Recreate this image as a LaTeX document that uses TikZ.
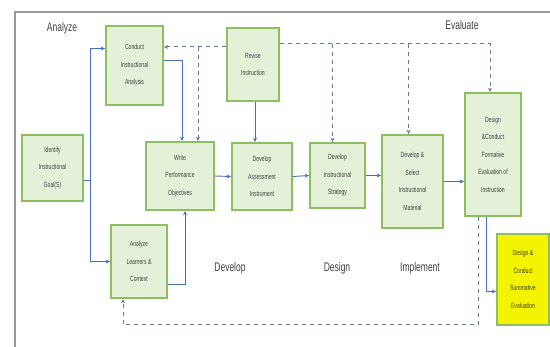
\documentclass[tikz,border=0pt]{standalone}
\usepackage{fontspec}
\setmainfont[FakeStretch=0.68]{Liberation Sans}
\usetikzlibrary{arrows.meta}
\definecolor{boxfill}{HTML}{E4F1D8}
\definecolor{boxline}{HTML}{8DBE60}
\definecolor{flow}{HTML}{4A6DC2}
\definecolor{fback}{HTML}{66789E}
\definecolor{sumfill}{HTML}{F4F400}
\begin{document}
\begin{tikzpicture}[x=1pt,y=-1pt,
    stage/.style={draw=boxline, line width=1.8pt, fill=boxfill, align=center,
      inner sep=1pt, text=black!75, font=\fontsize{7.5}{17.5}\selectfont},
    flowline/.style={draw=flow, line width=0.9pt, -{Stealth[length=4.5pt,width=4pt]}},
    loopline/.style={draw=fback, line width=1pt, dash pattern=on 4pt off 4pt,
      -{Stealth[length=4.5pt,width=4pt]}},
    phase/.style={text=black!75, font=\fontsize{12.5}{14}\selectfont}]
  \useasboundingbox (0,0) rectangle (550,347);
  \draw[gray!80, line width=1.3pt] (15,347) -- (15,12) -- (550,12);

  % Draw nodes
  \node[stage, minimum width=57pt, minimum height=79pt] (conduct) at (134.5,65.5) {Conduct\\Instructional\\Analysis};
  \node[stage, minimum width=52pt, minimum height=73pt] (revise) at (253,64.5) {Revise\\Instruction};
  \node[stage, minimum width=61pt, minimum height=66pt] (goal) at (52.5,168) {Identify\\Instructional\\Goal(S)};
  \node[stage, minimum width=68pt, minimum height=68pt] (objectives) at (180,176) {Write\\Performance\\Objectives};
  \node[stage, minimum width=60pt, minimum height=67pt] (assess) at (262,176.5) {Develop\\Assessment\\Instrument};
  \node[stage, minimum width=55pt, minimum height=65pt] (strategy) at (337.5,175.5) {Develop\\Instructional\\Strategy};
  \node[stage, minimum width=61pt, minimum height=93pt] (material) at (412.5,181.5) {Develop \&\\Select\\Instructional\\Material};
  \node[stage, minimum width=56pt, minimum height=123pt] (formative) at (493,154.5) {Design\\\&Conduct\\Formative\\Evaluation of\\Instruction};
  \node[stage, minimum width=56pt, minimum height=73pt] (learners) at (139,261.5) {Analyze\\Learners \&\\Context};
  \node[stage, fill=sumfill, text=black!70!olive, minimum width=52pt, minimum height=91pt] (summative) at (523,279.5) {Design \&\\Conduct\\Summative\\Evaluation};

  \node[phase] (analyze) at (62,28) {Analyze};
  \node[phase] (evaluate) at (462,25) {Evaluate};
  \node[phase] (develop) at (230,268) {Develop};
  \node[phase] (design) at (337,268) {Design};
  \node[phase] (implement) at (420,268) {Implement};

  % main flow
  \draw[flowline] ([yshift=-12pt]goal.east) -- ++(7,0) |- ([yshift=17pt]conduct.west);
  \draw[flowline] ([yshift=-12pt]goal.east) -- ++(7,0) |- (learners.west);
  \draw[flowline] ([yshift=5pt]conduct.east) -| ([xshift=2pt]objectives.north);
  \draw[flowline] ([yshift=-23pt]learners.east) -| ([xshift=5pt]objectives.south);
  \draw[flowline] (objectives.east) -- (assess.west);
  \draw[flowline] (assess.east) -- (strategy.west);
  \draw[flowline] (strategy.east) -- (strategy.east -| material.west);
  \draw[flowline] (material.east) -- (material.east -| formative.west);
  \draw[flowline] ([xshift=2pt]revise.south) -- ([xshift=-7pt]assess.north);
  \draw[flowline] ([xshift=-7pt]formative.south) |- ([yshift=-12pt]summative.west);

  % revision loops
  \coordinate (fbl) at (198,47);
  \coordinate (fbr) at (490,44);
  \draw[loopline] (revise.west |- fbl) -- (conduct.east |- fbl);
  \draw[loopline] (fbl) -- (fbl |- objectives.north);
  \draw[loopline] (revise.east |- fbr) -| ([xshift=-3pt]formative.north);
  \draw[loopline] ([xshift=-5pt]strategy.north |- fbr) -- ([xshift=-5pt]strategy.north);
  \draw[loopline] ([xshift=-4pt]material.north |- fbr) -- ([xshift=-4pt]material.north);
  \draw[loopline] ([xshift=-15pt]formative.south) -- ++(0,108) -| ([xshift=-16pt]learners.south);
\end{tikzpicture}
\end{document}
